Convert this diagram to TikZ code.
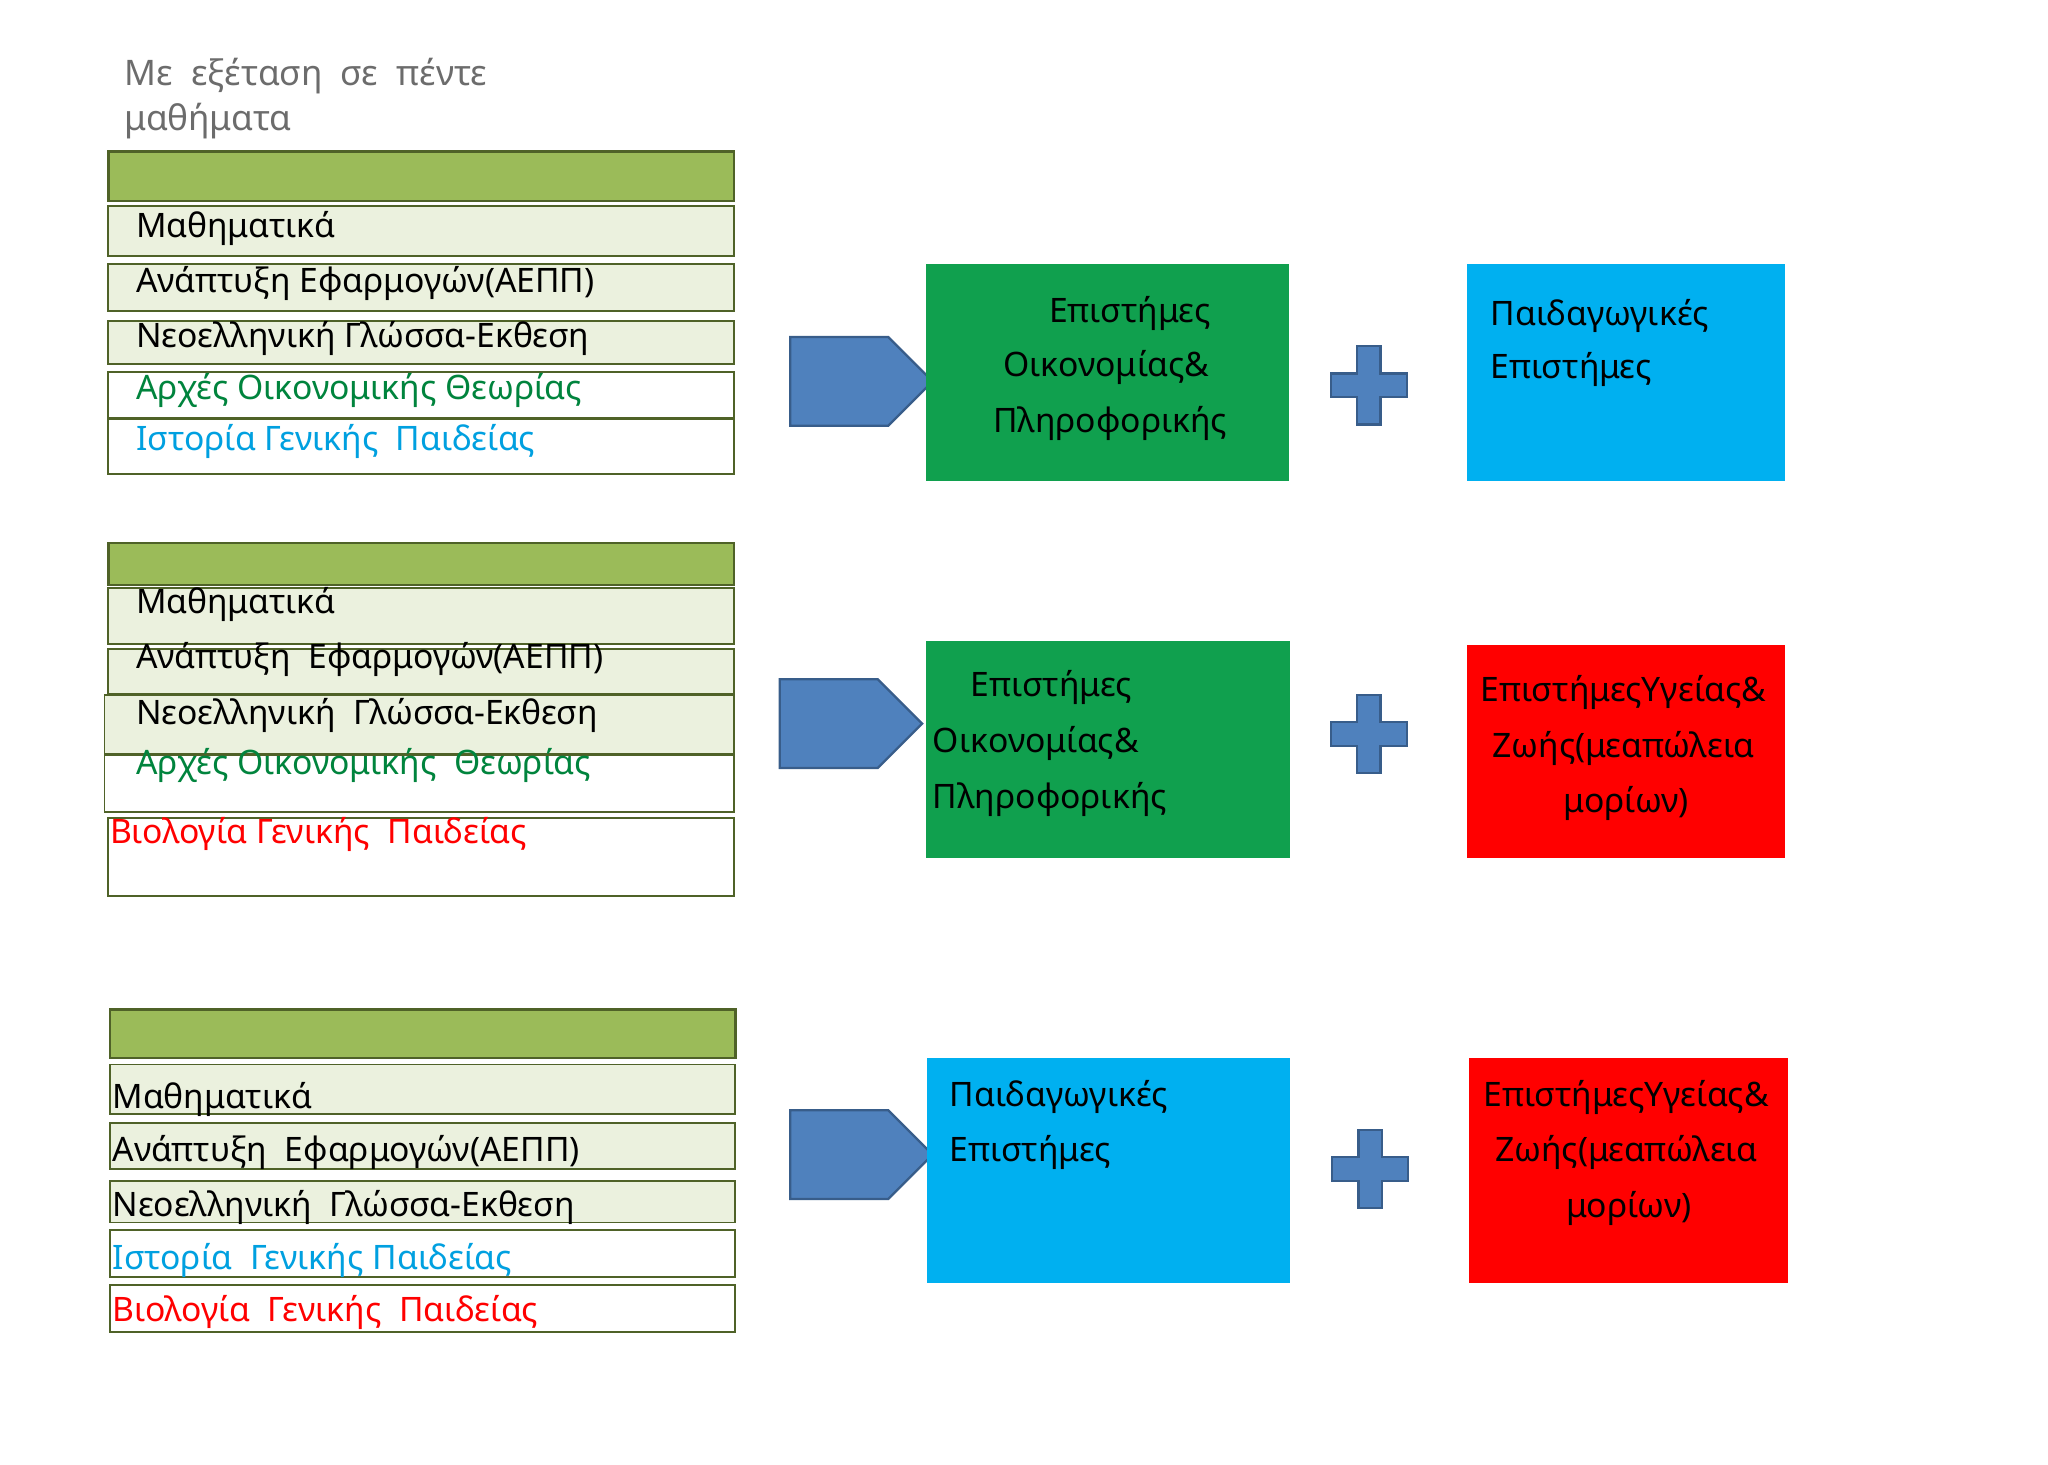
\documentclass[tikz,border=0pt]{standalone}
\usepackage{fontspec}
\setmainfont{Noto Sans}
\usetikzlibrary{shapes.arrows}
\definecolor{olive}{HTML}{4F6228}
\definecolor{hdr}{HTML}{9BBB59}
\definecolor{lite}{HTML}{EBF1DE}
\definecolor{gbox}{HTML}{10A04E}
\definecolor{bbox}{HTML}{00B0F0}
\definecolor{gtxt}{HTML}{00843D}
\definecolor{btxt}{HTML}{00A0E0}
\definecolor{arr}{HTML}{4F81BD}
\definecolor{arrd}{HTML}{385D8A}
\begin{document}
\begin{tikzpicture}[x=0.3mm,y=-0.3mm,
 txt/.style={font=\fontsize{22}{26}\selectfont},
 hd/.style={draw=olive,line width=1.5pt,fill=hdr},
 lr/.style={draw=olive,line width=1.2pt,fill=lite},
 wr/.style={draw=olive,line width=1.2pt,fill=white},
 lbl/.style={txt,anchor=base west,inner sep=0},
 big/.style={txt,align=center,inner sep=0},
 bigarrow/.style={single arrow,draw=arrd,fill=arr,line width=1.5pt,minimum height=109*0.3mm,minimum width=68*0.3mm,single arrow head extend=0pt,inner sep=0,single arrow tip angle=90,shape border rotate=0},
 plus/.style={draw=arrd,fill=arr,line width=1.5pt}]
\useasboundingbox (0,0) rectangle (1568,1121);
\newcommand{\myplus}[2]{\draw[plus] (#1-9,#2-30) -- (#1+9,#2-30) -- (#1+9,#2-9) -- (#1+29,#2-9) -- (#1+29,#2+9) -- (#1+9,#2+9) -- (#1+9,#2+30) -- (#1-9,#2+30) -- (#1-9,#2+9) -- (#1-29,#2+9) -- (#1-29,#2-9) -- (#1-9,#2-9) -- cycle;}
\node[txt,text=gray!85!black,anchor=north west,align=left,inner sep=0,font=\fontsize{23}{30}\selectfont] (title) at (95,44) {Με \ εξέταση \ σε \ \textbf{πέντε}\\μαθήματα};
% group 1
\draw[hd] (83,116) rectangle (562,154);
\draw[lr] (83,158) rectangle (562,196);
\draw[lr] (83,202) rectangle (562,238);
\draw[lr] (83,246) rectangle (562,279);
\draw[wr] (83,285) rectangle (562,320);
\draw[wr] (83,321) rectangle (562,363);
\node[lbl] (a1) at (104,182) {Μαθηματικά};
\node[lbl] (a2) at (104,224) {Ανάπτυξη Εφαρμογών(ΑΕΠΠ)};
\node[lbl] (a3) at (104,266) {Νεοελληνική Γλώσσα-Εκθεση};
\node[lbl,text=gtxt,font=\fontsize{22}{26}\selectfont\bfseries] (a4) at (104,306) {Αρχές Οικονομικής Θεωρίας};
\node[lbl,text=btxt,font=\fontsize{22}{26}\selectfont\bfseries] (a5) at (104,345) {Ιστορία Γενικής \ Παιδείας};
\node[bigarrow] (ar1) at (642.5,292) {};
\fill[gbox] (709,202) rectangle (987,368);
\node[big] (g1a) at (865,240) {Επιστήμες};
\node[big] (g1b) at (847,281) {Οικονομίας\&};
\node[big] (g1c) at (850,324) {Πληροφορικής};
\myplus{1048}{295}
\fill[bbox] (1123,202) rectangle (1367,368);
\node[lbl] (p1a) at (1141,249) {Παιδαγωγικές};
\node[lbl] (p1b) at (1141,290) {Επιστήμες};
% group 2
\draw[hd] (83,416) rectangle (562,448);
\draw[lr] (83,450) rectangle (562,493);
\draw[lr] (83,497) rectangle (562,531);
\draw[lr] (80,532) rectangle (562,577);
\draw[wr] (80,578) rectangle (562,622);
\draw[wr] (83,626) rectangle (562,686);
\node[lbl] (b1) at (104,470) {Μαθηματικά};
\node[lbl] (b2) at (104,512) {Ανάπτυξη \ Εφαρμογών(ΑΕΠΠ)};
\node[lbl] (b3) at (104,555) {Νεοελληνική \ Γλώσσα-Εκθεση};
\node[lbl,text=gtxt,font=\fontsize{22}{26}\selectfont\bfseries] (b4) at (104,593) {Αρχές Οικονομικής \ Θεωρίας};
\node[lbl,text=red,font=\fontsize{22}{26}\selectfont\bfseries] (b5) at (84,646) {Βιολογία Γενικής \ Παιδείας};
\node[bigarrow] (ar2) at (634.5,554) {};
\fill[gbox] (709,491) rectangle (988,657);
\node[lbl] (g2a) at (743,533) {Επιστήμες};
\node[lbl] (g2b) at (714,576) {Οικονομίας\&};
\node[lbl] (g2c) at (714,619) {Πληροφορικής};
\myplus{1048}{562}
\fill[red] (1123,494) rectangle (1367,657);
\node[big] (r2a) at (1243,530) {ΕπιστήμεςΥγείας\&};
\node[big] (r2b) at (1243,573) {Ζωής(μεαπώλεια};
\node[big] (r2c) at (1245,615) {μορίων)};
% group 3
\draw[hd] (84,773) rectangle (563,810);
\draw[lr] (84,815) rectangle (563,853);
\draw[lr] (84,860) rectangle (563,895);
\draw[lr] (84,904) rectangle (563,936);
\draw[wr] (84,942) rectangle (563,978);
\draw[wr] (84,984) rectangle (563,1020);
\node[lbl] (c1) at (86,849) {Μαθηματικά};
\node[lbl] (c2) at (86,889) {Ανάπτυξη \ Εφαρμογών(ΑΕΠΠ)};
\node[lbl] (c3) at (86,931) {Νεοελληνική \ Γλώσσα-Εκθεση};
\node[lbl,text=btxt,font=\fontsize{22}{26}\selectfont\bfseries] (c4) at (86,972) {Ιστορία \ Γενικής Παιδείας};
\node[lbl,text=red,font=\fontsize{22}{26}\selectfont\bfseries] (c5) at (86,1012) {Βιολογία \ Γενικής \ Παιδείας};
\node[bigarrow] (ar3) at (642.5,884) {};
\fill[bbox] (710,810) rectangle (988,982);
\node[lbl] (p3a) at (727,847) {Παιδαγωγικές};
\node[lbl] (p3b) at (727,889) {Επιστήμες};
\myplus{1049}{895}
\fill[red] (1125,810) rectangle (1369,982);
\node[big] (r3a) at (1245,840) {ΕπιστήμεςΥγείας\&};
\node[big] (r3b) at (1245,882) {Ζωής(μεαπώλεια};
\node[big] (r3c) at (1247,925) {μορίων)};
\end{tikzpicture}
\end{document}
